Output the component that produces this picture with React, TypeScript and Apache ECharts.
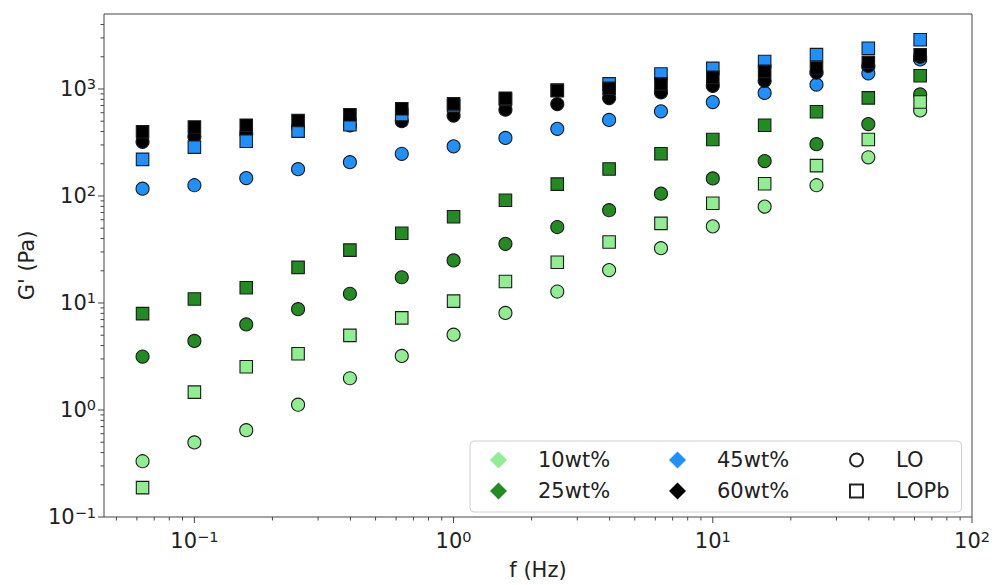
import React, { useEffect, useRef } from 'react';
import * as echarts from 'echarts';

// Frequencies (Hz)
const freq = [0.0631, 0.1, 0.1585, 0.2512, 0.3981, 0.631, 1, 1.585, 2.512, 3.981, 6.31, 10, 15.85, 25.12, 39.81, 63.1];

// G' (Pa) series
const lo10 = [0.332, 0.498, 0.648, 1.12, 1.98, 3.2, 5.06, 8.07, 12.8, 20.3, 32.5, 52, 79.6, 126, 230, 630];
const lopb10 = [0.188, 1.47, 2.54, 3.35, 4.98, 7.26, 10.4, 15.9, 24, 37.2, 55.5, 85.5, 130, 192, 337, 755];
const lo25 = [3.16, 4.42, 6.3, 8.75, 12.2, 17.4, 25, 35.7, 51.3, 73.6, 105, 146, 212, 305, 470, 890];
const lopb25 = [7.96, 10.9, 13.9, 21.5, 31.2, 44.8, 63.9, 91.2, 129, 179, 248, 337, 458, 612, 826, 1328];
const lo45 = [117, 126, 147, 178, 207, 248, 291, 349, 424, 514, 618, 755, 918, 1100, 1400, 1888];
const lopb45 = [220, 286, 325, 404, 463, 577, 698, 800, 975, 1117, 1380, 1559, 1807, 2096, 2404, 2880];
const lo60 = [321, 359, 383, 440, 457, 500, 564, 641, 723, 823, 929, 1071, 1191, 1422, 1641, 2000];
const lopb60 = [398, 441, 458, 508, 574, 653, 726, 820, 965, 1014, 1117, 1285, 1462, 1571, 1771, 2084];

// Tick values
const xMajor = [0.1, 1, 10, 100];
const xMinor = [0.05, 0.06, 0.07, 0.08, 0.09, 0.2, 0.3, 0.4, 0.5, 0.6, 0.7, 0.8, 0.9, 2, 3, 4, 5, 6, 7, 8, 9, 20, 30, 40, 50, 60, 70, 80, 90];
const yMajor = [0.1, 1, 10, 100, 1000];
const yMinor = [0.2, 0.3, 0.4, 0.5, 0.6, 0.7, 0.8, 0.9, 2, 3, 4, 5, 6, 7, 8, 9, 20, 30, 40, 50, 60, 70, 80, 90, 200, 300, 400, 500, 600, 700, 800, 900, 2000, 3000, 4000];

const X_MIN = 0.0448;
const X_MAX = 100;
const Y_MIN = 0.1;
const Y_MAX = 5020;

const FONT = 'DejaVu Sans';
const TXT = '#222';

const C10 = '#90EE90';
const C25 = '#228B22';
const C45 = '#1E90FF';
const C60 = '#000000';

// legend icons: small hollow circle / square inside a 17x17 box
const ICON_CIRCLE = 'path://M0,0L0,0M17,17L17,17M2,8.5A6.5,6.5 0 1,1 15,8.5A6.5,6.5 0 1,1 2,8.5Z';
const ICON_SQUARE = 'path://M0,0L0,0M17,17L17,17M2,2L15,2L15,15L2,15Z';

const powLabel = (v: number) => {
  const l = Math.log10(v);
  const e = Math.round(l);
  if (Math.abs(l - e) > 1e-6) return '';
  return `{b|10}{s|${e < 0 ? '\u2212' : ''}${Math.abs(e)}}`;
};

const richLabel = {
  b: { fontSize: 21, fontFamily: FONT, color: TXT },
  s: { fontSize: 14.5, fontFamily: FONT, color: TXT, padding: [0, 0, 9, 0] },
};

function tickSeries(vals: number[], axis: 'x' | 'y', len: number) {
  return {
    type: 'custom',
    silent: true,
    clip: false,
    z: 5,
    data: vals.map((v) => (axis === 'x' ? [v, Y_MIN] : [X_MIN, v])),
    renderItem: (params: any, api: any) => {
      const p = api.coord([api.value(0), api.value(1)]);
      const shape =
        axis === 'x'
          ? { x1: p[0], y1: p[1], x2: p[0], y2: p[1] + len }
          : { x1: p[0], y1: p[1], x2: p[0] - len, y2: p[1] };
      return { type: 'line', shape, style: { stroke: '#444', lineWidth: 1 } };
    },
  };
}

function scatter(name: string, vals: number[], symbol: string, color: string) {
  return {
    type: 'scatter',
    name,
    symbol,
    symbolSize: symbol === 'rect' ? 12.5 : 13,
    data: freq.map((f, i) => [f, vals[i]]),
    itemStyle: { color, borderColor: '#1a1a1a', borderWidth: 1.1, opacity: 1 },
    emphasis: { disabled: true },
  };
}

function dummy(name: string, symbol: string, color: string, border?: boolean) {
  return {
    type: 'scatter',
    name,
    symbol,
    symbolKeepAspect: true,
    data: [],
    itemStyle: border
      ? { color: '#fff', borderColor: '#222', borderWidth: 1.2, opacity: 1 }
      : { color, opacity: 1 },
  };
}

export default function App() {
  const ref = useRef<HTMLDivElement>(null);
  useEffect(() => {
    if (!ref.current) return;
    const chart = echarts.init(ref.current, undefined, { renderer: 'svg' });
    chart.setOption({
      animation: false,
      backgroundColor: '#fff',
      textStyle: { fontFamily: FONT },
      grid: {
        left: 104,
        top: 14,
        right: 23,
        bottom: 63,
        show: true,
        borderColor: '#444',
        borderWidth: 1,
        backgroundColor: 'transparent',
      },
      xAxis: {
        type: 'log',
        logBase: 10,
        min: X_MIN,
        max: X_MAX,
        axisLine: { show: false },
        axisTick: { show: false },
        splitLine: { show: false },
        axisLabel: {
          formatter: powLabel,
          rich: richLabel,
          fontSize: 21,
          margin: 12,
          color: TXT,
        },
        name: 'f (Hz)',
        nameLocation: 'middle',
        nameGap: 42,
        nameTextStyle: { fontSize: 21, fontFamily: FONT, color: TXT },
      },
      yAxis: {
        type: 'log',
        logBase: 10,
        min: Y_MIN,
        max: Y_MAX,
        axisLine: { show: false },
        axisTick: { show: false },
        splitLine: { show: false },
        axisLabel: {
          formatter: powLabel,
          rich: richLabel,
          fontSize: 21,
          margin: 8,
          color: TXT,
        },
        name: "G' (Pa)",
        nameLocation: 'middle',
        nameGap: 66,
        nameRotate: 90,
        nameTextStyle: { fontSize: 21, fontFamily: FONT, color: TXT },
      },
      legend: {
        orient: 'vertical',
        left: 470,
        top: 441,
        height: 70,
        padding: [8, 12, 10, 20],
        itemGap: 9,
        itemWidth: 17,
        itemHeight: 17,
        symbolKeepAspect: true,
        borderColor: '#cfcfcf',
        borderWidth: 1,
        borderRadius: 4,
        backgroundColor: '#fff',
        selectedMode: false,
        textStyle: { fontSize: 21, color: TXT, fontFamily: FONT, padding: [0, 0, 0, 26], lineHeight: 22 },
        data: [
          { name: '10wt%', textStyle: { width: 122 } },
          { name: '25wt%', textStyle: { width: 122 } },
          { name: '45wt%', textStyle: { width: 122 } },
          { name: '60wt%', textStyle: { width: 122 } },
          { name: 'LO', icon: ICON_CIRCLE },
          { name: 'LOPb', icon: ICON_SQUARE },
        ],
      },
      series: [
        scatter('10wt% LO', lo10, 'circle', C10),
        scatter('25wt% LO', lo25, 'circle', C25),
        scatter('45wt% LO', lo45, 'circle', C45),
        scatter('60wt% LO', lo60, 'circle', C60),
        scatter('10wt% LOPb', lopb10, 'rect', C10),
        scatter('25wt% LOPb', lopb25, 'rect', C25),
        scatter('45wt% LOPb', lopb45, 'rect', C45),
        scatter('60wt% LOPb', lopb60, 'rect', C60),
        dummy('10wt%', 'diamond', C10),
        dummy('25wt%', 'diamond', C25),
        dummy('45wt%', 'diamond', C45),
        dummy('60wt%', 'diamond', C60),
        dummy('LO', 'circle', '#fff', true),
        dummy('LOPb', 'rect', '#fff', true),
        tickSeries(xMajor, 'x', 6),
        tickSeries(xMinor, 'x', 3.5),
        tickSeries(yMajor, 'y', 6),
        tickSeries(yMinor, 'y', 3.5),
      ],
    });
    return () => chart.dispose();
  }, []);
  return (
    <div
      ref={ref}
      style={{ position: 'fixed', left: 0, top: 0, width: 995, height: 585 }}
    />
  );
}
